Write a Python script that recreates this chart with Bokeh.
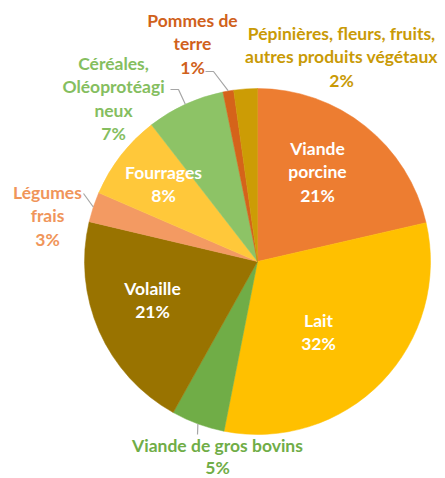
import math
from bokeh.plotting import figure
from bokeh.models import Range1d, ColumnDataSource
from bokeh.core.properties import value
from bokeh.embed import file_html
from bokeh.resources import INLINE

# ---- data ----
categories = ["Viande\nporcine", "Lait", "Viande de gros bovins", "Volaille",
              "Légumes\nfrais", "Fourrages", "Céréales,\nOléoprotéagi\nneux",
              "Pommes de\nterre", "Pépinières, fleurs, fruits,\nautres produits végétaux"]
shares = [21.4, 31.7, 5.0, 20.6, 2.8, 8.0, 7.3, 1.0, 2.2]

# ---- styles ----
slice_colors = ["#ED7D31", "#FFC000", "#70AD47", "#997300", "#F39A62",
                "#FFC83A", "#8DC366", "#D5631A", "#CC9C05"]
label_colors = ["#FFFFFF", "#FFFFFF", "#70AD47", "#FFFFFF", "#F0955A",
                "#FFFFFF", "#85BE5F", "#D0611B", "#C99A06"]
# label first-line centre in page pixels, and leader-line start (None = inside)
label_pos = [(317, 148), (318, 320), (217, 445), (152, 288), (47, 192),
             (163, 172), (113, 63), (192, 20), (341, 33)]
leader_start = [None, None, [(197, 434)], None, [(83, 193)],
                None, [(170, 89), (178, 89)], [(205, 71), (213, 71)], None]
LINE_H = 23.3
LINE_H_BOTTOM = 21.5

W, H = 445, 478


def px(x):
    return x


def py(y):
    return H - y


CX, CY, R = px(257), py(261), 173

p = figure(width=W, height=H, output_backend="svg", toolbar_location=None,
           x_range=Range1d(0, W), y_range=Range1d(0, H), min_border=0)
p.axis.visible = False
p.grid.visible = False
p.outline_line_color = None
p.background_fill_color = "white"
p.border_fill_color = "white"

total = sum(shares)
starts, ends, mids = [], [], []
cum = 0.0
for s in shares:
    a0 = math.pi / 2 - 2 * math.pi * cum / total
    cum += s
    a1 = math.pi / 2 - 2 * math.pi * cum / total
    starts.append(a0)
    ends.append(a1)
    mids.append((a0 + a1) / 2)

src = ColumnDataSource(dict(start=starts, end=ends, color=slice_colors))
p.wedge(x=CX, y=CY, radius=R, start_angle="start", end_angle="end",
        direction="clock", fill_color="color", line_color="color",
        line_width=0.5, source=src)

# leader lines
for i, ls in enumerate(leader_start):
    if not ls:
        continue
    xs = [px(x) for x, _ in ls] + [CX + R * math.cos(mids[i])]
    ys = [py(y) for _, y in ls] + [CY + R * math.sin(mids[i])]
    p.line(xs, ys, line_color="#A6A6A6", line_width=1.2)

# labels
tx, ty, tt, tc = [], [], [], []
for i, cat in enumerate(categories):
    lines = cat.split("\n") + [f"{round(shares[i])}%"]
    x0, y0 = label_pos[i]
    lh = LINE_H_BOTTOM if i == 2 else LINE_H
    for k, ln in enumerate(lines):
        tx.append(px(x0))
        ty.append(py(y0 + k * lh))
        tt.append(ln)
        tc.append(label_colors[i])

tsrc = ColumnDataSource(dict(x=tx, y=ty, text=tt, color=tc))
p.text(x="x", y="y", text="text", text_color="color", source=tsrc,
       text_font=value("Lato"), text_font_style="bold",
       text_font_size="17.5px", text_align="center", text_baseline="middle")

open("out.html", "w").write(file_html(p, INLINE))
